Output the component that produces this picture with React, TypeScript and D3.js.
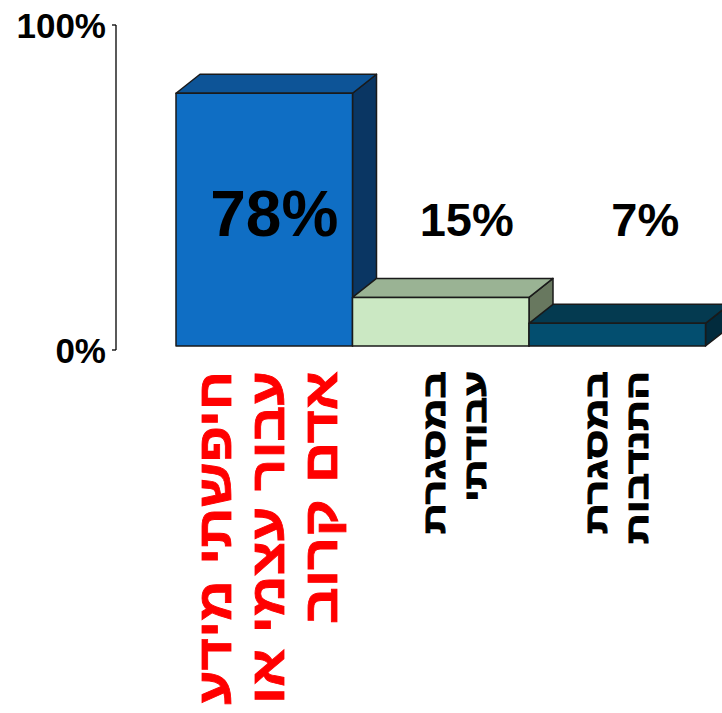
import React, { useEffect } from "react";
import * as d3 from "d3";

const categories = ["חיפשתי מידע עבור עצמי או אדם קרוב", "במסגרת עבודתי", "במסגרת התנדבות"];
const categoryLines = [
  ["חיפשתי מידע", "עבור עצמי או", "אדם קרוב"],
  ["במסגרת", "עבודתי"],
  ["במסגרת", "התנדבות"],
];
const values = [78, 15, 7];
const valueLabels = ["78%", "15%", "7%"];
const axisTicks = [0, 100];
const axisTickLabels = ["0%", "100%"];

const frontColors = ["#0f6ec4", "#cbe8c3", "#034e6f"];
const topColors = ["#0d5497", "#9ab394", "#043a50"];
const sideColors = ["#0a3663", "#68785f", "#022b3d"];
const labelColors = ["#ff0000", "#000000", "#000000"];
const labelSizes = [48, 32, 32];
const labelSpacing = [53, 41, 41];
const labelBaselines = [231, 445, 607];
const lineLengths = [
  [334, 333, 253],
  [163, 131],
  [163, 173],
];
const valueSizes = [64, 47, 47];
const valueOffsets = [10, 26, 28];

const W = 722;
const H = 713;
const DX = 24;
const DY = 19;
const FONT = "'Liberation Sans', Arial, sans-serif";

export default function App() {
  useEffect(() => {
    document.body.style.margin = "0";
  }, []);

  const x = d3.scaleBand<string>().domain(categories).range([176, 705.5]).padding(0);
  const y = d3.scaleLinear().domain([0, 100]).range([346, 22]);
  const yAxis = d3.scaleLinear().domain([0, 100]).range([350, 25]);
  const axisX = 116;

  return (
    <svg width={W} height={H} style={{ position: "absolute", left: 0, top: 0, display: "block" }} fontFamily={FONT}>
      <rect width={W} height={H} fill="#fff" />
      {/* axis */}
      <line x1={axisX} x2={axisX} y1={yAxis(100)} y2={yAxis(0)} stroke="#000" strokeWidth={1.3} />
      {axisTicks.map((t, i) => (
        <g key={t}>
          <line x1={axisX - 4} x2={axisX} y1={yAxis(t)} y2={yAxis(t)} stroke="#000" strokeWidth={1.3} />
          <text x={106} y={yAxis(t) + 13} textAnchor="end" fontSize={35} fontWeight="bold" fill="#000">
            {axisTickLabels[i]}
          </text>
        </g>
      ))}
      {/* bars */}
      {categories.map((c, i) => {
        const x0 = x(c)!;
        const x1 = x0 + x.bandwidth();
        const yt = y(values[i]);
        const yb = y(0);
        const top = `${x0},${yt} ${x0 + DX},${yt - DY} ${x1 + DX},${yt - DY} ${x1},${yt}`;
        const side = `${x1},${yt} ${x1 + DX},${yt - DY} ${x1 + DX},${yb - DY} ${x1},${yb}`;
        return (
          <g key={c} stroke="#1a1a1a" strokeWidth={1.5} strokeLinejoin="round">
            <polygon points={side} fill={sideColors[i]} />
            <polygon points={top} fill={topColors[i]} />
            <rect x={x0} y={yt} width={x1 - x0} height={yb - yt} fill={frontColors[i]} />
          </g>
        );
      })}
      {/* value labels */}
      {categories.map((c, i) => (
        <text
          key={"v" + c}
          x={x(c)! + x.bandwidth() / 2 + valueOffsets[i]}
          y={236}
          textAnchor="middle"
          fontSize={valueSizes[i]}
          fontWeight="bold"
          fill="#000"
        >
          {valueLabels[i]}
        </text>
      ))}
      {/* category labels */}
      {categories.map((c, i) => {
        const lines = categoryLines[i];
        return (
          <text
            key={"c" + c}
            transform={`translate(${labelBaselines[i]},371) rotate(-90)`}
            textAnchor="end"
            fontSize={labelSizes[i]}
            fontWeight="bold"
            fill={labelColors[i]}
            stroke={labelColors[i]}
            strokeWidth={i === 0 ? 0.8 : 1}
          >
            {lines.map((l, j) => (
              <tspan
                key={j}
                x={0}
                y={j * labelSpacing[i]}
                textLength={lineLengths[i][j]}
                lengthAdjust="spacingAndGlyphs"
              >
                {l}
              </tspan>
            ))}
          </text>
        );
      })}
    </svg>
  );
}
